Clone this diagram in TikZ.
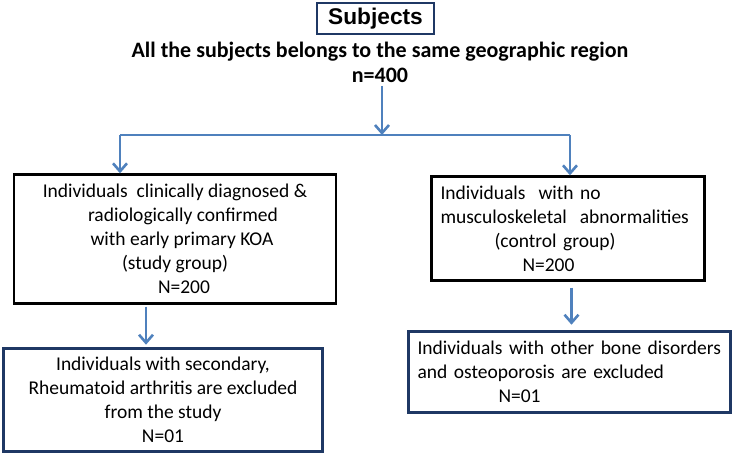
\documentclass[tikz,border=0pt]{standalone}
\usepackage{fontspec}
\setmainfont{Carlito}
\newfontfamily\headfont{Liberation Sans}
\usetikzlibrary{arrows.meta}
\definecolor{arrowblue}{RGB}{79,129,189}
\definecolor{navyline}{RGB}{31,56,100}

\tikzset{every picture/.style={line width=0.75pt}}
\tikzset{
  flow/.style={draw=arrowblue,line width=2.6pt,-{Straight Barb[length=8pt,width=14pt]}},
  groupbox/.style={draw=black,line width=2.4pt,rectangle,inner sep=0pt,font=\fontsize{19.5}{24}\selectfont},
  exclbox/.style={draw=navyline,line width=2.4pt,rectangle,inner sep=0pt,font=\fontsize{19.5}{24}\selectfont}
}

\begin{document}
\begin{tikzpicture}[x=1pt,y=-1pt]
\useasboundingbox (0,0) rectangle (732,454);

\node [draw=navyline,line width=2.4pt,minimum width=117pt,minimum height=31pt,font=\headfont\bfseries\fontsize{22.7}{26}\selectfont](subjects) at (375.5,18.5) {Subjects};
\node [align=center,font=\bfseries\fontsize{22}{25}\selectfont](region) at (380,62) {All the subjects belongs to the same geographic region\\n=400};

\coordinate (split) at (382,135);
\coordinate (splitL) at (120,135);
\coordinate (splitR) at (570,135);

\node [groupbox,minimum width=322pt,minimum height=129pt,align=center](study) at (175,239)
  {Individuals\ \ clinically diagnosed \&\\\hspace*{16pt}radiologically confirmed\\\hspace*{14pt}with early primary KOA\\(study group)\\\hspace*{18pt}N=200};
\node [groupbox,minimum width=273pt,minimum height=104pt,text width=255pt,align=left](control) at (568,228.5)
  {Individuals\ \ with no\\musculoskeletal\ \ abnormalities\\\hspace*{54pt}(control group)\\\hspace*{82pt}N=200};

\node [exclbox,minimum width=319pt,minimum height=103pt,align=center](exclL) at (163,400)
  {Individuals with secondary,\\Rheumatoid arthritis are excluded\\from the study\\N=01};
\node [exclbox,minimum width=322pt,minimum height=81pt,text width=304pt,align=left](exclR) at (569.5,372)
  {Individuals with other bone disorders\\and osteoporosis are excluded\\\hspace*{81pt}N=01};

\draw [flow] (region.south -| split) -- (split);
\draw [draw=arrowblue,line width=2.6pt] (splitL) -- (splitR);
\draw [flow] (splitL) -- (splitL |- study.north);
\draw [flow] (splitR) -- (splitR |- control.north);
\draw [flow] (study.south -| exclL.north) ++(-17,2) -- ++(0,38);
\draw [flow] (control.south -| exclR.north) ++(2,6) -- ++(0,37);
\end{tikzpicture}
\end{document}
